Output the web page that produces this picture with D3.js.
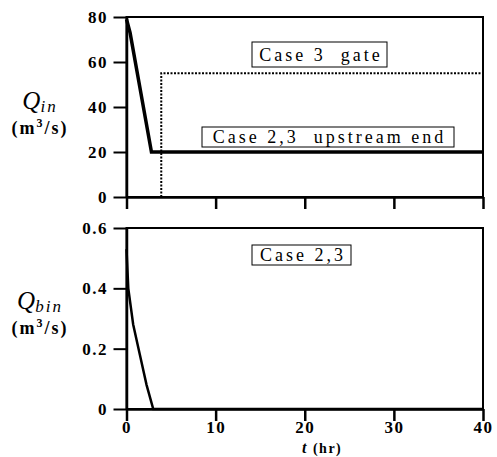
<!DOCTYPE html>
<html>
<head>
<meta charset="utf-8">
<script src="https://cdn.jsdelivr.net/npm/d3@7"></script>
<style>
    body { margin: 0; background: #fff; }
    svg text { font-family: "Liberation Serif", "DejaVu Serif", serif; fill: #000; }
    .tick text { font-weight: bold; font-size: 17px; letter-spacing: 1.5px; }
</style>
</head>
<body>
<div id="chart"></div>
<script>
// time axis (hr)
const tTicks = [0, 10, 20, 30, 40];

// top panel: inflow discharge Q_in (m3/s)
const qinTicks = [0, 20, 40, 60, 80];
const upstreamT = [0, 0.4, 2.8, 40];
const upstreamQ = [79, 73, 20, 20];
const gateT = [3.9, 3.9, 40];
const gateQ = [0, 55, 55];

// bottom panel: sediment inflow Q_bin (m3/s)
const qbinTicks = [0, 0.2, 0.4, 0.6];
const qbinTickLabels = ['0', '0.2', '0.4', '0.6'];
const sedT = [0, 0.2, 0.75, 1.5, 2.25, 3.0, 40];
const sedQ = [0.53, 0.40, 0.28, 0.18, 0.08, 0, 0];

const svg = d3.select('#chart').append('svg')
    .attr('width', 497)
    .attr('height', 457);

const x = d3.scaleLinear().domain([0, 40]).range([126.5, 483]);
const yTop = d3.scaleLinear().domain([0, 80]).range([197, 17]);
const yBot = d3.scaleLinear().domain([0, 0.6]).range([409, 228]);

function panel(y, yTicks, yFormat, xLabels) {
    const g = svg.append('g');
    // frame
    g.append('rect')
        .attr('x', x(0)).attr('y', y.range()[1])
        .attr('width', x(40) - x(0)).attr('height', y.range()[0] - y.range()[1])
        .attr('fill', 'none').attr('stroke', '#000').attr('stroke-width', 2);

    const xa = g.append('g')
        .attr('transform', `translate(0, ${y.range()[0]})`)
        .call(d3.axisBottom(x).tickValues(tTicks).tickSize(12).tickSizeOuter(0)
            .tickFormat(xLabels ? d3.format('d') : ''));
    xa.select('.domain').attr('stroke-width', 2.5);
    xa.selectAll('.tick line').attr('stroke-width', 2.5);
    xa.selectAll('.tick text').attr('dy', '0.5em');

    const ya = g.append('g')
        .attr('transform', `translate(${x(0)}, 0)`)
        .call(d3.axisLeft(y).tickValues(yTicks).tickSize(13).tickSizeOuter(0).tickFormat(yFormat));
    ya.select('.domain').attr('stroke-width', 2.5);
    ya.selectAll('.tick line').attr('stroke-width', 2);
    ya.selectAll('.tick text').attr('dx', '-0.15em');
    return ya;
}

function labelBox(g, cx, cy, w, h, text) {
    g.append('rect')
        .attr('x', cx).attr('y', cy).attr('width', w).attr('height', h)
        .attr('fill', '#fff').attr('stroke', '#000').attr('stroke-width', 1);
    g.append('text')
        .attr('x', cx + w / 2 + 1.5).attr('y', cy + h / 2 + 6)
        .attr('text-anchor', 'middle')
        .attr('font-size', 18)
        .attr('letter-spacing', 3)
        .style('white-space', 'pre')
        .text(text);
}

function yLabel(cy, sub) {
    svg.append('text').attr('x', 40).attr('y', cy).attr('text-anchor', 'middle')
        .attr('font-size', 25).attr('font-style', 'italic')
        .html(`Q<tspan font-size="17" dy="3" letter-spacing="2">${sub}</tspan>`);
    svg.append('text').attr('x', 40).attr('y', cy + 25).attr('text-anchor', 'middle')
        .attr('font-size', 18).attr('font-weight', 'bold').attr('letter-spacing', 2)
        .html('(m<tspan font-size="12" dy="-7">3</tspan><tspan dy="7">/s)</tspan>');
}

const line = (yScale) => d3.line()
    .x(d => x(d[0]))
    .y(d => yScale(d[1]));

// top panel
panel(yTop, qinTicks, d3.format('d'), false);

svg.append('path')
    .datum(gateT.map((t, i) => [t, gateQ[i]]))
    .attr('fill', 'none')
    .attr('stroke', '#000')
    .attr('stroke-width', 2)
    .attr('stroke-dasharray', '2,1.5')
    .attr('d', line(yTop));

svg.append('path')
    .datum(upstreamT.map((t, i) => [t, upstreamQ[i]]))
    .attr('fill', 'none')
    .attr('stroke', '#000')
    .attr('stroke-width', 3.5)
    .attr('d', line(yTop));

labelBox(svg, 252, 42, 135, 25, 'Case 3  gate');
labelBox(svg, 202, 127, 252, 20, 'Case 2,3  upstream end');
yLabel(109, 'in');

// bottom panel
const botY = panel(yBot, qbinTicks, (d, i) => qbinTickLabels[i], true);
botY.selectAll('.tick text').attr('letter-spacing', 4);

svg.append('path')
    .datum(sedT.map((t, i) => [t, sedQ[i]]))
    .attr('fill', 'none')
    .attr('stroke', '#000')
    .attr('stroke-width', 2.5)
    .attr('d', line(yBot));

labelBox(svg, 252, 245, 99, 20, 'Case 2,3');
yLabel(309, 'bin');

// x label
svg.append('text').attr('x', 302).attr('y', 453)
    .attr('font-size', 14).attr('font-weight', 'bold').attr('letter-spacing', 1.5)
    .style('white-space', 'pre')
    .html('<tspan font-style="italic" font-size="16">t</tspan> (hr)');
</script>
</body>
</html>
